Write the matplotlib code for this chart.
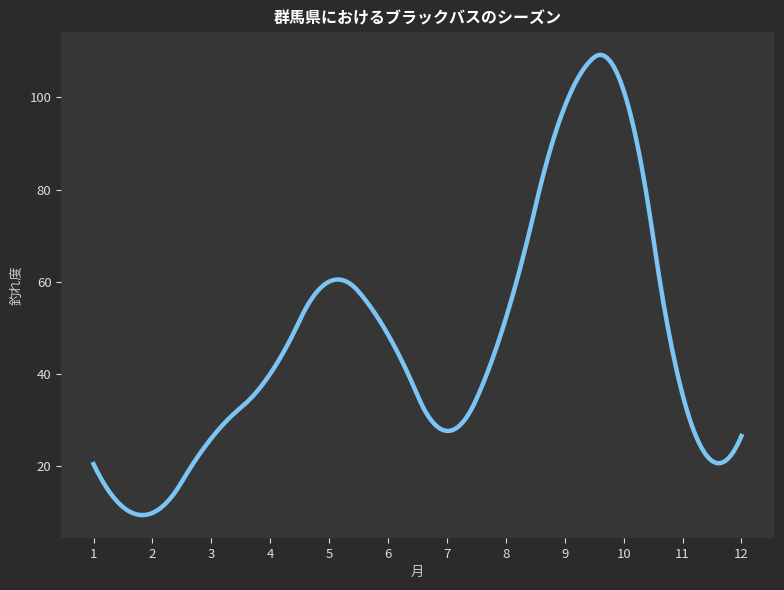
import numpy as np
import matplotlib
matplotlib.use("Agg")
import matplotlib.pyplot as plt

plt.rcParams['font.family'] = ['Noto Sans CJK JP', 'DejaVu Sans']

months = [1, 2, 3, 4, 5, 6, 7, 8, 9, 10, 11, 12]
catch_rate = [20.4, 9.8, 26, 40, 60, 48.5, 27.6, 52, 98, 101.5, 35.5, 26.5]
title = '群馬県におけるブラックバスのシーズン'
xlabel = '月'
ylabel = '釣れ度'


def bspline_basis(t, k, xs):
    # Cox-de Boor recursion, returns (len(xs), len(t)-k-1)
    xs = np.asarray(xs, float)
    nb = len(t) - 1
    B = np.zeros((len(xs), nb))
    for i in range(nb):
        if t[i] < t[i + 1]:
            B[:, i] = (xs >= t[i]) & (xs < t[i + 1])
    last = np.max(np.nonzero(np.diff(t) > 0))
    B[xs == t[-1], last] = 1
    for d in range(1, k + 1):
        Bn = np.zeros((len(xs), nb - d))
        for i in range(nb - d):
            if t[i + d] > t[i]:
                Bn[:, i] += (xs - t[i]) / (t[i + d] - t[i]) * B[:, i]
            if t[i + d + 1] > t[i + 1]:
                Bn[:, i] += (t[i + d + 1] - xs) / (t[i + d + 1] - t[i + 1]) * B[:, i + 1]
        B = Bn
    return B


def quad_spline(x, y, num=300):
    # quadratic interpolating spline, knots at midpoints (like interp1d 'quadratic')
    x = np.asarray(x, float)
    k = 2
    mid = (x[1:] + x[:-1]) / 2
    t = np.r_[[x[0]] * (k + 1), mid[1:-1], [x[-1]] * (k + 1)]
    coef = np.linalg.solve(bspline_basis(t, k, x), np.asarray(y, float))
    xs = np.linspace(x[0], x[-1], num)
    return xs, bspline_basis(t, k, xs) @ coef


fig, ax = plt.subplots(figsize=(7.84, 5.9), dpi=100)
fig.patch.set_facecolor('#2b2b2b')
ax.set_facecolor('#363636')

xs, ys = quad_spline(months, catch_rate)
ax.plot(xs, ys, color='#7cc4f4', linewidth=3.2)

ax.set_xticks(months)
ax.set_title(title, color='white', fontsize=11.5, fontweight='bold', pad=6)
ax.set_xlabel(xlabel, color='#cccccc', fontsize=9.5)
ax.set_ylabel(ylabel, color='#cccccc', fontsize=9.5)
for s in ax.spines.values():
    s.set_visible(False)
ax.tick_params(colors='#dddddd', labelsize=9.5, length=3.5, width=0.8)

plt.subplots_adjust(left=0.078, right=0.987, top=0.946, bottom=0.088)
fig.savefig('out.png', facecolor=fig.get_facecolor())
